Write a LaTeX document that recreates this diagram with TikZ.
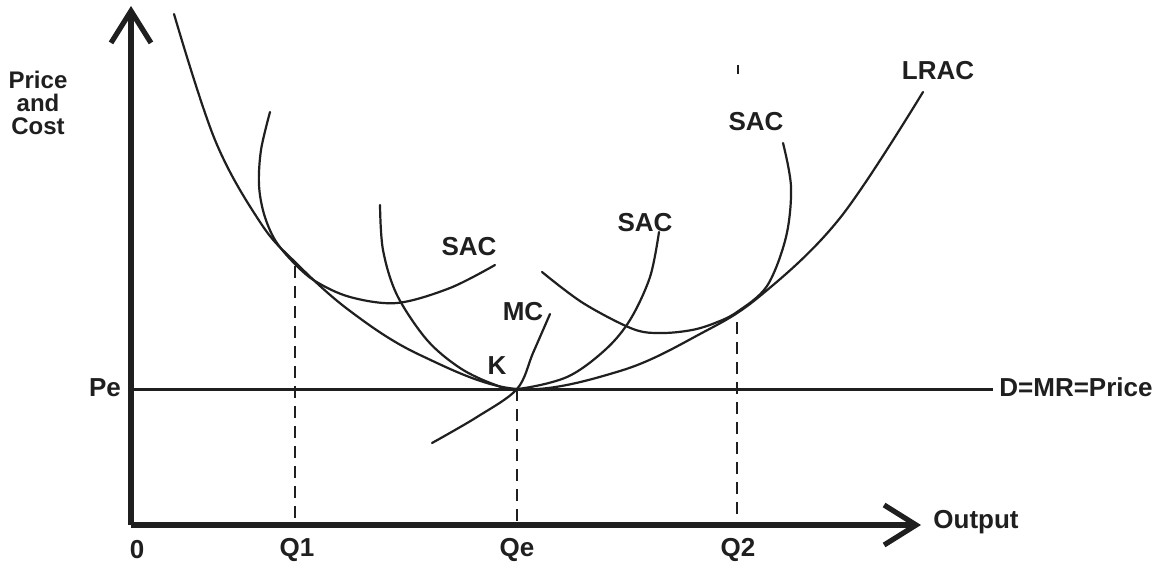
\documentclass[tikz,border=0pt]{standalone}
\usepackage{fontspec}
\setmainfont{Liberation Sans}
\usetikzlibrary{arrows.meta}
\begin{document}
\begin{tikzpicture}[x=0.5pt,y=-0.5pt,
  ink/.style={black!88},
  curve/.style={ink, line width=1.1pt, line cap=round},
  axisline/.style={ink, line width=2.6pt, -{Straight Barb[length=16pt,width=20pt]}},
  pline/.style={ink, line width=1.5pt},
  qline/.style={ink, line width=0.9pt, dash pattern=on 6pt off 4pt},
  lab/.style={ink, font=\fontsize{13}{15}\selectfont\bfseries, inner sep=0pt},
  smalllab/.style={ink, font=\fontsize{12}{11.5}\selectfont\bfseries, inner sep=0pt, align=center}]
\useasboundingbox[fill=white] (0,0) rectangle (1161,567);

% axes
\coordinate (O) at (131,525);
\coordinate (ytop) at (131,6);
\coordinate (xend) at (921,525);
\draw[axisline] (O) -- (ytop);
\draw[axisline] (O) -- (xend);

% price line
\coordinate (pe0) at (131,389);
\coordinate (pe1) at (993,389);
\draw[pline] (pe0) -- (pe1);

% dashed output lines
\coordinate (q1t) at (295,266);
\coordinate (q1b) at (295,525);
\coordinate (qet) at (517,389);
\coordinate (qeb) at (517,525);
\coordinate (q2t) at (737,322);
\coordinate (q2b) at (737,525);
\draw[qline] (q1t) -- (q1b);
\draw[qline] (qet) -- (qeb);
\draw[qline] (q2t) -- (q2b);

% small tick
\coordinate (tk0) at (738,65);
\coordinate (tk1) at (738,74);
\draw[ink, line width=0.9pt] (tk0) -- (tk1);

% LRAC
\draw[curve] plot[smooth, tension=0.6] coordinates {
  (174,14) (215,140) (260,222) (295,262) (350,311) (420,355) (517,389)
  (620,371) (700,334) (760,296) (840,218) (923,92)};

% SAC 1
\draw[curve] plot[smooth, tension=0.55] coordinates {
  (270,112) (261,150) (259,185) (264,214) (275,240) (293,262) (315,281)
  (350,297) (397,303) (450,288) (495,265)};

% SAC 2 (tangent at K)
\draw[curve] plot[smooth, tension=0.55] coordinates {
  (380,205) (383,250) (397,295) (427,340) (460,368) (493,384) (517,389)
  (567,377) (605,350) (630,320) (650,277) (659,232)};

% SAC 3
\draw[curve] plot[smooth, tension=0.55] coordinates {
  (542,272) (583,303) (633,329) (662,333) (692,330) (715,323) (737,312)
  (767,286) (786,237) (791,187) (783,143)};

% MC
\draw[curve] plot[smooth, tension=0.55] coordinates {
  (432,443) (477,417) (517,389) (533,353) (550,314)};

% labels
\node[smalllab] (pc) at (38,103) {Price\\and\\Cost};
\node[lab] (pe) at (105,388) {Pe};
\node[lab] (zero) at (137,550) {0};
\node[lab] (q1) at (297,550) {Q1};
\node[lab] (qe) at (517,550) {Qe};
\node[lab] (q2) at (738,550) {Q2};
\node[lab] (out) at (976,522) {Output};
\node[lab] (dmr) at (1076,387) {D=MR=Price};
\node[lab] (k) at (497,366) {K};
\node[lab] (mc) at (523,312) {MC};
\node[lab] (sac1) at (469,247) {SAC};
\node[lab] (sac2) at (645,223) {SAC};
\node[lab] (sac3) at (756,122) {SAC};
\node[lab] (lrac) at (938,71) {LRAC};
\end{tikzpicture}
\end{document}
